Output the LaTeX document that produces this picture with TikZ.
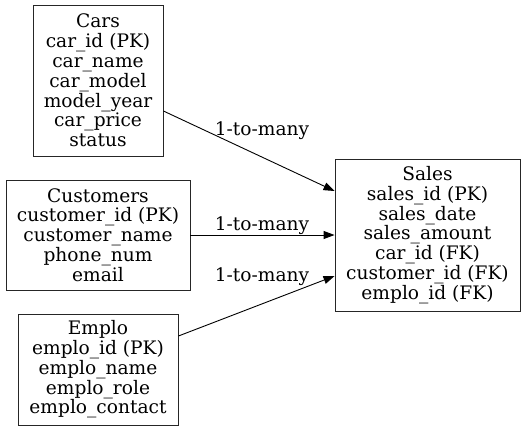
\documentclass[tikz,border=0pt]{standalone}
\usepackage{fontspec}
\setmainfont{DejaVu Serif}
\usetikzlibrary{arrows.meta}
\begin{document}
\begin{tikzpicture}[x=1bp,y=-1bp,
  entity/.style={draw=black!85, line width=0.9bp, align=center, inner sep=0pt,
    font=\fontsize{18.6bp}{19.8bp}\selectfont},
  rel/.style={draw=black, line width=0.9bp, -{Triangle[length=11bp,width=8bp]}},
  lbl/.style={font=\fontsize{18.6bp}{20bp}\selectfont, inner sep=0pt}]
\useasboundingbox (0,0) rectangle (525,431);
\node[entity, minimum width=130bp, minimum height=151bp] (cars) at (98,80.5)
  {Cars\\car\_id (PK)\\car\_name\\car\_model\\model\_year\\car\_price\\status};
\node[entity, minimum width=184bp, minimum height=110bp] (cust) at (98,235)
  {Customers\\customer\_id (PK)\\customer\_name\\phone\_num\\email};
\node[entity, minimum width=160bp, minimum height=111bp] (emp) at (98,369.5)
  {Emplo\\emplo\_id (PK)\\emplo\_name\\emplo\_role\\emplo\_contact};
\node[entity, minimum width=185bp, minimum height=152bp] (sales) at (427.5,235)
  {Sales\\sales\_id (PK)\\sales\_date\\sales\_amount\\car\_id (FK)\\customer\_id (FK)\\emplo\_id (FK)};
\draw[rel] ([yshift=-30.5bp]cars.east) -- ([yshift=44bp]sales.west);
\draw[rel] (cust.east) -- (sales.west);
\draw[rel] ([yshift=33.5bp]emp.east) -- ([yshift=-41bp]sales.west);
\node[lbl] (l1) at (262,130.5) {1-to-many};
\node[lbl] (l2) at (262,225.5) {1-to-many};
\node[lbl] (l3) at (262,276.5) {1-to-many};
\end{tikzpicture}
\end{document}
